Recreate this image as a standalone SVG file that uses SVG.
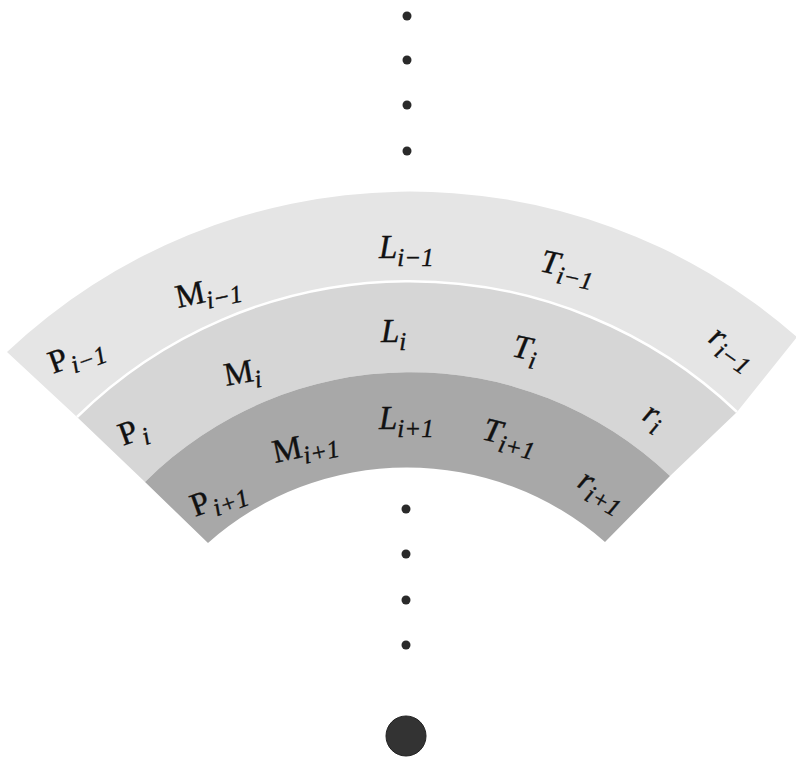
<svg xmlns="http://www.w3.org/2000/svg" width="796" height="757" viewBox="0 0 796 757">
<style>
.lbl{font-family:"Liberation Serif","Times New Roman",serif;font-size:33px;fill:#111111;stroke:#111111;stroke-width:0.4}
.it{font-style:italic}
.sub{font-size:25px;font-style:italic}
.dot{fill:#2a2a2a}
</style>
<rect width="796" height="757" fill="#ffffff"/>
<g id="band-outer">
<path d="M7,352 A587,587 0 0 1 797,337 L737,412 A475,475 0 0 0 77,417 Z" fill="#e5e5e5"/>
</g>
<g id="band-middle">
<path d="M77,417 A475,475 0 0 1 737,412 L670,476 A376,376 0 0 0 145,482 Z" fill="#d6d6d6"/>
<path d="M77,417 A475,475 0 0 1 737,412" fill="none" stroke="#ffffff" stroke-width="2.5"/>
</g>
<g id="band-inner">
<path d="M145,482 A376,376 0 0 1 670,476 L605,542 A300,300 0 0 0 208,543 Z" fill="#a8a8a8"/>
</g>
<g id="labels-outer">
<text class="lbl" transform="translate(53,374) rotate(-20)">P<tspan class="sub" dx="2" dy="7">i−1</tspan></text>
<text class="lbl" transform="translate(178,308) rotate(-12)">M<tspan class="sub" dy="7">i−1</tspan></text>
<text class="lbl" transform="translate(379,258)"><tspan class="it">L</tspan><tspan class="sub" dy="8">i−1</tspan></text>
<text class="lbl" transform="translate(539,271) rotate(12)"><tspan class="it">T</tspan><tspan class="sub" dy="8">i−1</tspan></text>
<text class="lbl" transform="translate(707,341) rotate(35)"><tspan class="it">r</tspan><tspan class="sub" dy="8">i−1</tspan></text>
</g>
<g id="labels-middle">
<text class="lbl" transform="translate(123,446) rotate(-20)">P<tspan class="sub" dx="3" dy="7">i</tspan></text>
<text class="lbl" transform="translate(226,386) rotate(-10)">M<tspan class="sub" dy="7">i</tspan></text>
<text class="lbl" transform="translate(381,342)"><tspan class="it">L</tspan><tspan class="sub" dy="8">i</tspan></text>
<text class="lbl" transform="translate(511,356) rotate(12)"><tspan class="it">T</tspan><tspan class="sub" dy="8">i</tspan></text>
<text class="lbl" transform="translate(641,419) rotate(30)"><tspan class="it">r</tspan><tspan class="sub" dy="8">i</tspan></text>
</g>
<g id="labels-inner">
<text class="lbl" transform="translate(195,517) rotate(-20)">P<tspan class="sub" dx="2" dy="7">i+1</tspan></text>
<text class="lbl" transform="translate(275,463) rotate(-12)">M<tspan class="sub" dy="7">i+1</tspan></text>
<text class="lbl" transform="translate(379,429)"><tspan class="it">L</tspan><tspan class="sub" dy="8">i+1</tspan></text>
<text class="lbl" transform="translate(481,439) rotate(14)"><tspan class="it">T</tspan><tspan class="sub" dy="8">i+1</tspan></text>
<text class="lbl" transform="translate(576,486) rotate(30)"><tspan class="it">r</tspan><tspan class="sub" dy="8">i+1</tspan></text>
</g>
<g id="dots">
<circle class="dot" cx="407" cy="16" r="4.5"/>
<circle class="dot" cx="407" cy="60" r="4.5"/>
<circle class="dot" cx="407" cy="105" r="4.5"/>
<circle class="dot" cx="407" cy="151" r="4.5"/>
<circle class="dot" cx="406" cy="509" r="4.5"/>
<circle class="dot" cx="406" cy="554" r="4.5"/>
<circle class="dot" cx="406" cy="600" r="4.5"/>
<circle class="dot" cx="406" cy="645" r="4.5"/>
</g>
<g id="center">
<circle cx="406" cy="736" r="20" fill="#333333" stroke="#222222" stroke-width="1"/>
</g>
</svg>
